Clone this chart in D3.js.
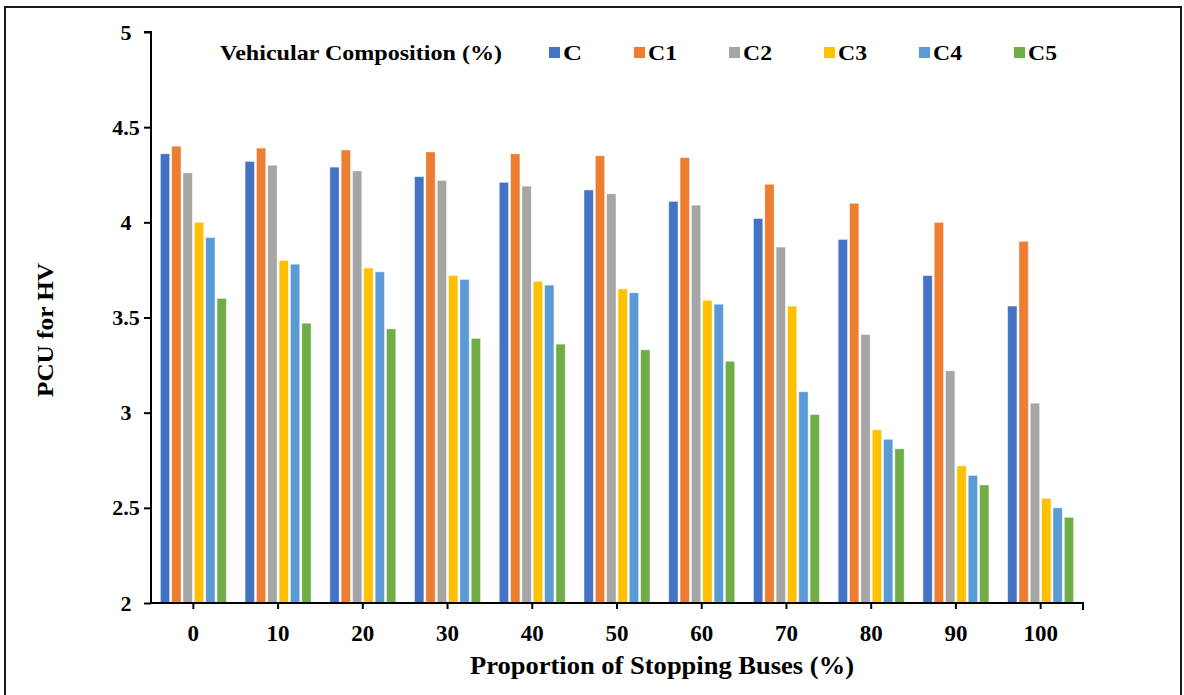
<!DOCTYPE html>
<html>
<head>
<meta charset="utf-8">
<script src="https://cdn.jsdelivr.net/npm/d3@7"></script>
<style>
  html, body { margin: 0; padding: 0; background: #fff; }
  svg { display: block; }
  text { font-family: "Liberation Serif", "Times New Roman", serif; font-weight: bold; fill: #000; }
</style>
</head>
<body>
<svg id="chart" width="1184" height="695"></svg>
<script>
// Proportion of stopping buses (%) on the x axis
const categories = ["0", "10", "20", "30", "40", "50", "60", "70", "80", "90", "100"];
// Vehicular composition series
const seriesNames = ["C", "C1", "C2", "C3", "C4", "C5"];
const seriesColors = ["#4472C4", "#ED7D31", "#A5A5A5", "#FFC000", "#5B9BD5", "#70AD47"];
// PCU for HV, one array per composition
const valuesC  = [4.36, 4.32, 4.29, 4.24, 4.21, 4.17, 4.11, 4.02, 3.91, 3.72, 3.56];
const valuesC1 = [4.40, 4.39, 4.38, 4.37, 4.36, 4.35, 4.34, 4.20, 4.10, 4.00, 3.90];
const valuesC2 = [4.26, 4.30, 4.27, 4.22, 4.19, 4.15, 4.09, 3.87, 3.41, 3.22, 3.05];
const valuesC3 = [4.00, 3.80, 3.76, 3.72, 3.69, 3.65, 3.59, 3.56, 2.91, 2.72, 2.55];
const valuesC4 = [3.92, 3.78, 3.74, 3.70, 3.67, 3.63, 3.57, 3.11, 2.86, 2.67, 2.50];
const valuesC5 = [3.60, 3.47, 3.44, 3.39, 3.36, 3.33, 3.27, 2.99, 2.81, 2.62, 2.45];
const seriesValues = [valuesC, valuesC1, valuesC2, valuesC3, valuesC4, valuesC5];
const yTicks = [2, 2.5, 3, 3.5, 4, 4.5, 5];

const svg = d3.select("#chart");

// outer frame
svg.append("rect")
  .attr("x", 5).attr("y", 7).attr("width", 1176).attr("height", 700)
  .attr("fill", "none").attr("stroke", "#1a1a1a").attr("stroke-width", 2);

const plot = { left: 151, right: 1083, top: 32, bottom: 603 };

const x0 = d3.scaleBand().domain(categories).range([plot.left, plot.right]).padding(0);
const groupWidth = 68;
const x1 = d3.scaleBand().domain(seriesNames).range([0, groupWidth]).paddingInner(0.18).paddingOuter(0.09);
const y = d3.scaleLinear().domain([2, 5]).range([plot.bottom, plot.top]);
const color = d3.scaleOrdinal().domain(seriesNames).range(seriesColors);

// bars
const rows = [];
categories.forEach((c, ci) => {
  seriesNames.forEach((s, si) => rows.push({ cat: c, series: s, value: seriesValues[si][ci] }));
});
svg.append("g").selectAll("rect").data(rows).join("rect")
  .attr("x", d => x0(d.cat) + (x0.bandwidth() - groupWidth) / 2 + x1(d.series))
  .attr("y", d => y(d.value))
  .attr("width", x1.bandwidth())
  .attr("height", d => y(2) - y(d.value))
  .attr("fill", d => color(d.series))
  .attr("stroke", "#fff").attr("stroke-opacity", 0.5).attr("stroke-width", 0.8);

// y axis
const yAxis = svg.append("g")
  .attr("transform", `translate(${plot.left},0)`)
  .call(d3.axisLeft(y).tickValues(yTicks).tickSize(7).tickFormat(d => String(d)));
yAxis.select(".domain").attr("stroke", "#000").attr("stroke-width", 2)
  .attr("d", `M-7,${plot.top}H0V${plot.bottom}`);
yAxis.selectAll(".tick line").attr("stroke", "#000").attr("stroke-width", 2);
yAxis.selectAll(".tick text")
  .attr("x", -25).attr("text-anchor", "middle")
  .style("font-family", "'Liberation Serif', serif").style("font-weight", "bold")
  .style("font-size", "22px").attr("fill", "#000");

// x axis
const xAxis = svg.append("g")
  .attr("transform", `translate(0,${plot.bottom})`)
  .call(d3.axisBottom(x0).tickSize(6).tickSizeOuter(0));
xAxis.select(".domain").attr("stroke", "#000").attr("stroke-width", 2)
  .attr("d", `M${plot.left},0H${plot.right}V7`);
xAxis.selectAll(".tick line").attr("stroke", "#000").attr("stroke-width", 2);
xAxis.selectAll(".tick text")
  .attr("y", 22)
  .style("font-family", "'Liberation Serif', serif").style("font-weight", "bold")
  .style("font-size", "23px").attr("fill", "#000");

// axis titles
svg.append("text")
  .attr("x", 662).attr("y", 674).attr("text-anchor", "middle")
  .style("font-size", "25px")
  .attr("textLength", 384).attr("lengthAdjust", "spacingAndGlyphs")
  .text("Proportion of Stopping Buses (%)");

svg.append("text")
  .attr("transform", "translate(53,330) rotate(-90)").attr("text-anchor", "middle")
  .style("font-size", "24px")
  .attr("textLength", 134).attr("lengthAdjust", "spacingAndGlyphs")
  .text("PCU for HV");

// legend
const legend = svg.append("g").attr("transform", "translate(220,60)");
legend.append("text").attr("x", 0).attr("y", 0)
  .style("font-size", "22px")
  .attr("textLength", 282).attr("lengthAdjust", "spacingAndGlyphs")
  .text("Vehicular Composition (%)");
let cursor = 329;
seriesNames.forEach(s => {
  const w = s.length === 1 ? 19 : 29;
  legend.append("rect").attr("x", cursor).attr("y", -13).attr("width", 11).attr("height", 11)
    .attr("fill", color(s));
  legend.append("text").attr("x", cursor + 14).attr("y", 0)
    .style("font-size", "22px")
    .attr("textLength", w).attr("lengthAdjust", "spacingAndGlyphs")
    .text(s);
  cursor += 14 + w + 52;
});
</script>
</body>
</html>
